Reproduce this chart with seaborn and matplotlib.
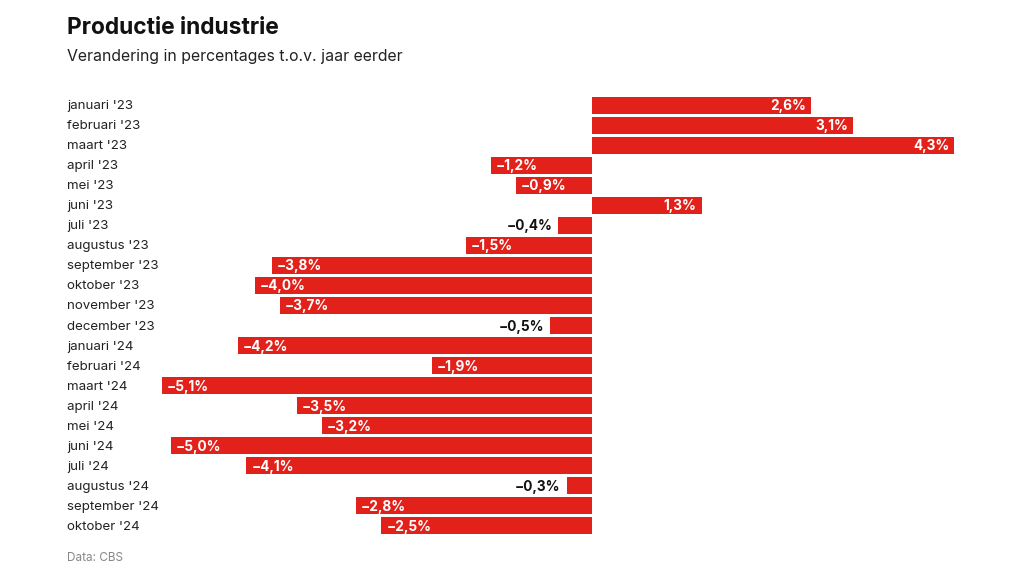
import pandas as pd
import seaborn as sns
import matplotlib.pyplot as plt
from matplotlib import transforms

# Data
maanden = ["januari '23", "februari '23", "maart '23", "april '23", "mei '23", "juni '23",
           "juli '23", "augustus '23", "september '23", "oktober '23", "november '23",
           "december '23", "januari '24", "februari '24", "maart '24", "april '24",
           "mei '24", "juni '24", "juli '24", "augustus '24", "september '24", "oktober '24"]
waarden = [2.6, 3.1, 4.3, -1.2, -0.9, 1.3, -0.4, -1.5, -3.8, -4.0, -3.7, -0.5,
           -4.2, -1.9, -5.1, -3.5, -3.2, -5.0, -4.1, -0.3, -2.8, -2.5]

df = pd.DataFrame({"maand": maanden, "waarde": waarden})

sns.set_theme(style="white")
plt.rcParams['font.family'] = ['Inter', 'DejaVu Sans']

rood = "#e2211a"
fig = plt.figure(figsize=(10.24, 5.76), dpi=100)
ax = fig.add_axes([120 / 1024, 40 / 576, 880 / 1024, 441 / 576])

sns.barplot(data=df, x="waarde", y="maand", color=rood, saturation=1,
            width=0.85, ax=ax, orient="h", linewidth=0)

ax.set_xlim(-(592 - 120) / 84.3, (1000 - 592) / 84.3)
ax.set_ylim(len(maanden) - 0.5, -0.5)
ax.set_xlabel("")
ax.set_ylabel("")
ax.set_xticks([])
ax.set_yticks([])
for s in ax.spines.values():
    s.set_visible(False)

# maandlabels links uitgelijnd
trans = transforms.blended_transform_factory(fig.transFigure, ax.transData)
for i, m in enumerate(maanden):
    ax.text(67 / 1024, i + 0.05, m, transform=trans, ha="left", va="center",
            fontsize=9.6, color="#222222")

# waardelabels
px = 1 / 84.3
for i, v in enumerate(waarden):
    tekst = f"{v:.1f}%".replace(".", ",").replace("-", "\u2212")
    if abs(v) < 0.8:
        ax.text(v - 6 * px, i + 0.05, tekst, ha="right", va="center", fontsize=9.8,
                fontweight="bold", color="#111111")
    elif v > 0:
        ax.text(v - 5 * px, i + 0.05, tekst, ha="right", va="center", fontsize=9.8,
                fontweight="bold", color="white")
    else:
        ax.text(v + 5 * px, i + 0.05, tekst, ha="left", va="center", fontsize=9.8,
                fontweight="bold", color="white")

fig.text(67 / 1024, 1 - 28 / 576, "Productie industrie", fontsize=16.4,
         fontweight="bold", color="#111111", va="center")
fig.text(67 / 1024, 1 - 56 / 576, "Verandering in percentages t.o.v. jaar eerder",
         fontsize=11.4, color="#222222", va="center")
fig.text(67 / 1024, 1 - 558 / 576, "Data: CBS", fontsize=8.5, color="#888888", va="center")

plt.savefig("out.png", dpi=100)
